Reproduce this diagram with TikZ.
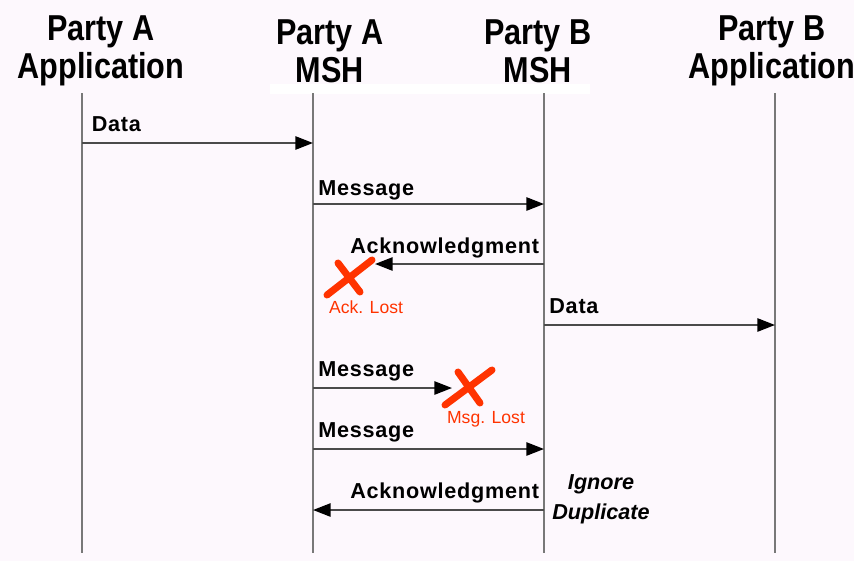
\documentclass[tikz,border=0pt]{standalone}
\usepackage{fontspec}
\setmainfont{Liberation Sans}
\newfontfamily\hdrfont{Liberation Sans}[FakeStretch=0.85]
\newfontfamily\lblfont{Liberation Sans}[LetterSpace=3.5]
\usetikzlibrary{arrows.meta}
\definecolor{seqbg}{RGB}{253,248,253}
\definecolor{seqline}{RGB}{120,120,120}
\definecolor{seqarrow}{RGB}{75,75,75}
\definecolor{lostred}{RGB}{255,51,0}
\tikzset{
  %% ---- parties ----
  party/.style    = {align=center, inner sep=0pt,
                     font=\hdrfont\bfseries\fontsize{20.5}{21.6}\selectfont},
  lifeline/.style = {line width=1.1pt, color=seqline},
  %% ---- messages ----
  msg/.style      = {-{Triangle[length=10pt, width=7.5pt, color=black]},
                     line width=1.1pt, color=seqarrow},
  msglbl/.style   = {inner sep=0pt, text=black,
                     font=\lblfont\bfseries\fontsize{12.3}{14}\selectfont},
  note/.style     = {align=center, inner sep=0pt,
                     font=\bfseries\itshape\fontsize{12.3}{17}\selectfont},
  %% ---- lost messages ----
  lostmark/.style = {line width=4pt, color=lostred, line cap=round},
  lostlbl/.style  = {inner sep=0pt, text=lostred,
                     font=\fontsize{10}{12}\selectfont},
}

\begin{document}
\begin{tikzpicture}[x=0.02cm, y=-0.02cm]

  %% Page
  \fill[seqbg] (0,0) rectangle (854,561);
  \useasboundingbox (0,0) rectangle (854,561);
  \fill[white] (270,84) rectangle (590,94);

  %% Parties
  \node[party] (hdrAppA) at (101,51) {Party A\\Application};
  \node[party] (hdrMshA) at (330,51) {Party A\\MSH};
  \node[party] (hdrMshB) at (538,51) {Party B\\MSH};
  \node[party] (hdrAppB) at (772,51) {Party B\\Application};

  %% Lifelines
  \foreach \nm/\x in {appA/82, mshA/313, mshB/544, appB/775} {
    \coordinate (\nm-top) at (\x,93);
    \coordinate (\nm-bot) at (\x,553);
    \draw[lifeline] (\nm-top) -- (\nm-bot);
  }

  %% Message ends
  \coordinate (data1-s) at (82,143);   \coordinate (data1-e) at (313,143);
  \coordinate (msg1-s)  at (313,204);  \coordinate (msg1-e)  at (544,204);
  \coordinate (ack1-s)  at (544,264);  \coordinate (ackLost) at (375,264);
  \coordinate (data2-s) at (544,325);  \coordinate (data2-e) at (775,325);
  \coordinate (msg2-s)  at (313,388);  \coordinate (msgLost) at (452,388);
  \coordinate (msg3-s)  at (313,449);  \coordinate (msg3-e)  at (544,449);
  \coordinate (ack2-s)  at (544,510);  \coordinate (ack2-e)  at (313,510);

  %% Messages
  \draw[msg] (data1-s) -- (data1-e)
    node[msglbl, at start, anchor=base west, xshift=5pt, yshift=6.5pt] (data1Lbl) {Data};
  \draw[msg] (msg1-s) -- (msg1-e)
    node[msglbl, at start, anchor=base west, xshift=2.5pt, yshift=5pt] (msg1Lbl) {Message};
  \draw[msg] (ack1-s) -- (ackLost)
    node[msglbl, at start, anchor=base east, xshift=-2.3pt, yshift=6pt] (ack1Lbl) {Acknowledgment};
  \draw[msg] (data2-s) -- (data2-e)
    node[msglbl, at start, anchor=base west, xshift=2.5pt, yshift=6.5pt] (data2Lbl) {Data};
  \draw[msg] (msg2-s) -- (msgLost)
    node[msglbl, at start, anchor=base west, xshift=2.5pt, yshift=6.5pt] (msg2Lbl) {Message};
  \draw[msg] (msg3-s) -- (msg3-e)
    node[msglbl, at start, anchor=base west, xshift=2.5pt, yshift=6.8pt] (msg3Lbl) {Message};
  \draw[msg] (ack2-s) -- (ack2-e)
    node[msglbl, at start, anchor=base east, xshift=-2.3pt, yshift=6.8pt] (ack2Lbl) {Acknowledgment};

  %% Lost marks
  \draw[lostmark] (372,260) -- (327,295) (338,263) -- (360,292);
  \node[lostlbl, anchor=base] (ackLostLbl) at (366,313) {Ack. Lost};
  \draw[lostmark] (492,370) -- (445,405) (458,372) -- (480,403);
  \node[lostlbl, anchor=base] (msgLostLbl) at (486,423) {Msg. Lost};

  %% Duplicate note
  \node[note] (dupNote) at (601,499) {Ignore\\Duplicate};

\end{tikzpicture}
\end{document}
